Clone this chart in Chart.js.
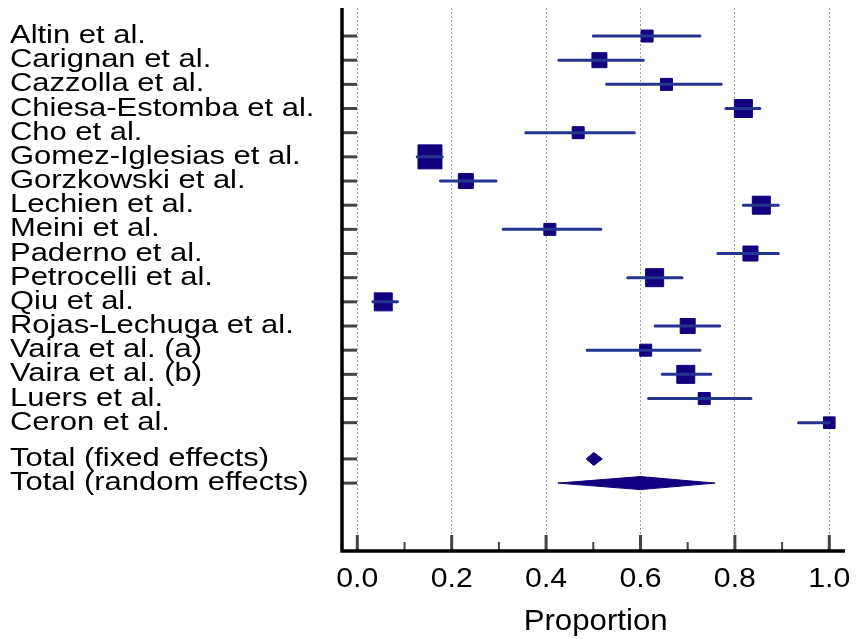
<!DOCTYPE html>
<html>
<head>
<meta charset="utf-8">
<script src="https://cdn.jsdelivr.net/npm/chart.js@4.4.1/dist/chart.umd.min.js"></script>
<style>
    html, body { margin: 0; padding: 0; background: #fff; }
    #wrap { width: 856px; height: 639px; }
</style>
</head>
<body>
<div id="wrap"><canvas id="forest"></canvas></div>
<script>
// Datos del forest plot
const estudios = [
    'Altin et al.', 'Carignan et al.', 'Cazzolla et al.', 'Chiesa-Estomba et al.',
    'Cho et al.', 'Gomez-Iglesias et al.', 'Gorzkowski et al.', 'Lechien et al.',
    'Meini et al.', 'Paderno et al.', 'Petrocelli et al.', 'Qiu et al.',
    'Rojas-Lechuga et al.', 'Vaira et al. (a)', 'Vaira et al. (b)', 'Luers et al.', 'Ceron et al.'
];
const proporcion = [0.614, 0.513, 0.655, 0.818, 0.468, 0.154, 0.230, 0.856, 0.408, 0.833, 0.630, 0.055, 0.700, 0.611, 0.696, 0.735, 1.000];
const icInf      = [0.500, 0.427, 0.528, 0.781, 0.357, 0.127, 0.176, 0.818, 0.309, 0.764, 0.573, 0.033, 0.631, 0.487, 0.646, 0.617, 0.935];
const icSup      = [0.726, 0.606, 0.771, 0.853, 0.587, 0.180, 0.294, 0.892, 0.516, 0.892, 0.688, 0.085, 0.768, 0.726, 0.749, 0.834, 1.000];
const pesos      = [16, 25, 16, 36, 16, 64, 25, 36, 16, 25, 36, 36, 25, 16, 36, 16, 15];

const totales  = ['Total (fixed effects)', 'Total (random effects)'];
const totalEst = [0.501, 0.600];
const totalInf = [0.485, 0.425];
const totalSup = [0.519, 0.758];

const ticksX = [0.0, 0.2, 0.4, 0.6, 0.8, 1.0];
const ticksMenores = [0.1, 0.3, 0.5, 0.7, 0.9];
const tituloX = 'Proportion';

const fuente = '"Liberation Sans", Arial, sans-serif';
const azulMarca = '#10007f';
const azulLinea = '#26338f';

// Filas: estudios 0..n-1, totales con medio renglón de separación
const n = estudios.length;
const filasTotal = totales.map((t, k) => n + 0.5 + k);
const medioAlto = 0.27;

// Barras de intervalo (segmentos separados por un punto vacío)
const barras = [];
estudios.forEach((e, i) => {
    barras.push({ x: icInf[i], y: i }, { x: icSup[i], y: i }, { x: null, y: null });
});

// Rombos de los efectos totales
const rombos = totales.map((t, k) => ({
    type: 'line',
    data: [
        { x: totalInf[k], y: filasTotal[k] },
        { x: totalEst[k], y: filasTotal[k] - medioAlto },
        { x: totalSup[k], y: filasTotal[k] },
        { x: totalEst[k], y: filasTotal[k] + medioAlto },
        { x: totalInf[k], y: filasTotal[k] }
    ],
    borderColor: azulMarca,
    backgroundColor: azulMarca,
    borderWidth: 1,
    pointRadius: 0,
    fill: 'shape',
    tension: 0
}));

// texto con un poco de estiramiento horizontal, como en el original
function texto(ctx, txt, x, y, escala) {
    ctx.save();
    ctx.translate(x, y);
    ctx.scale(escala, 1);
    ctx.fillText(txt, 0, 0);
    ctx.restore();
}

// Ejes, ticks internos y etiquetas
const decoracion = {
    id: 'decoracion',
    afterDraw(chart) {
        const { ctx, chartArea: a, scales: { x, y } } = chart;
        ctx.save();
        ctx.lineCap = 'butt';

        // ticks del eje Y
        ctx.strokeStyle = '#444';
        ctx.lineWidth = 3;
        const filas = estudios.map((e, i) => i).concat(filasTotal);
        filas.forEach(f => {
            const py = y.getPixelForValue(f);
            ctx.beginPath();
            ctx.moveTo(a.left, py);
            ctx.lineTo(a.left + 15, py);
            ctx.stroke();
        });

        // ticks del eje X (mayores y menores)
        ticksX.forEach(v => {
            const px = x.getPixelForValue(v);
            ctx.beginPath();
            ctx.moveTo(px, a.bottom);
            ctx.lineTo(px, a.bottom - 16);
            ctx.stroke();
        });
        ctx.lineWidth = 2;
        ticksMenores.forEach(v => {
            const px = x.getPixelForValue(v);
            ctx.beginPath();
            ctx.moveTo(px, a.bottom);
            ctx.lineTo(px, a.bottom - 9);
            ctx.stroke();
        });

        // líneas de ejes
        ctx.strokeStyle = '#000';
        ctx.lineWidth = 3.5;
        ctx.beginPath();
        ctx.moveTo(a.left, a.top);
        ctx.lineTo(a.left, a.bottom);
        ctx.lineTo(a.right, a.bottom);
        ctx.stroke();

        ctx.fillStyle = '#000';
        ctx.textBaseline = 'alphabetic';

        // etiquetas de filas
        ctx.font = '26px ' + fuente;
        ctx.textAlign = 'left';
        const etiquetas = estudios.concat(totales);
        etiquetas.forEach((txt, i) => {
            texto(ctx, txt, 10, y.getPixelForValue(filas[i]) + 7, 1.19);
        });

        // etiquetas del eje X y título
        ctx.textAlign = 'center';
        ctx.font = '28px ' + fuente;
        ticksX.forEach(v => {
            texto(ctx, v.toFixed(1), x.getPixelForValue(v), a.bottom + 36, 1.08);
        });
        ctx.font = '30px ' + fuente;
        texto(ctx, tituloX, x.getPixelForValue(0.505), a.bottom + 79, 1.04);
        ctx.restore();
    }
};

new Chart(document.getElementById('forest'), {
    type: 'scatter',
    data: {
        datasets: [
            {
                type: 'line',
                data: barras,
                borderColor: azulLinea,
                borderWidth: 3,
                borderCapStyle: 'round',
                pointRadius: 0,
                spanGaps: false,
                fill: false
            },
            {
                type: 'scatter',
                data: proporcion.map((p, i) => ({ x: p, y: i })),
                pointStyle: 'rect',
                pointRadius: pesos.map(w => 3 * Math.sqrt(w) / Math.SQRT2),
                backgroundColor: azulMarca,
                borderColor: azulMarca,
                borderWidth: 1
            },
            ...rombos
        ]
    },
    options: {
        responsive: true,
        maintainAspectRatio: false,
        animation: false,
        layout: { autoPadding: false, padding: { left: 342, right: 11, top: 8, bottom: 0 } },
        scales: {
            x: {
                type: 'linear',
                min: -0.0324,
                max: 1.0333,
                afterBuildTicks: s => { s.ticks = ticksX.map(v => ({ value: v })); },
                afterFit: s => { s.height = 88; },
                grid: { color: '#a0a0a0', lineWidth: 1, drawTicks: false },
                border: { display: false, dash: [2, 2] },
                ticks: { display: false }
            },
            y: {
                type: 'linear',
                display: false,
                reverse: true,
                min: -1.16,
                max: 21.31
            }
        },
        plugins: {
            legend: { display: false },
            tooltip: { enabled: false }
        }
    },
    plugins: [decoracion]
});
</script>
</body>
</html>
